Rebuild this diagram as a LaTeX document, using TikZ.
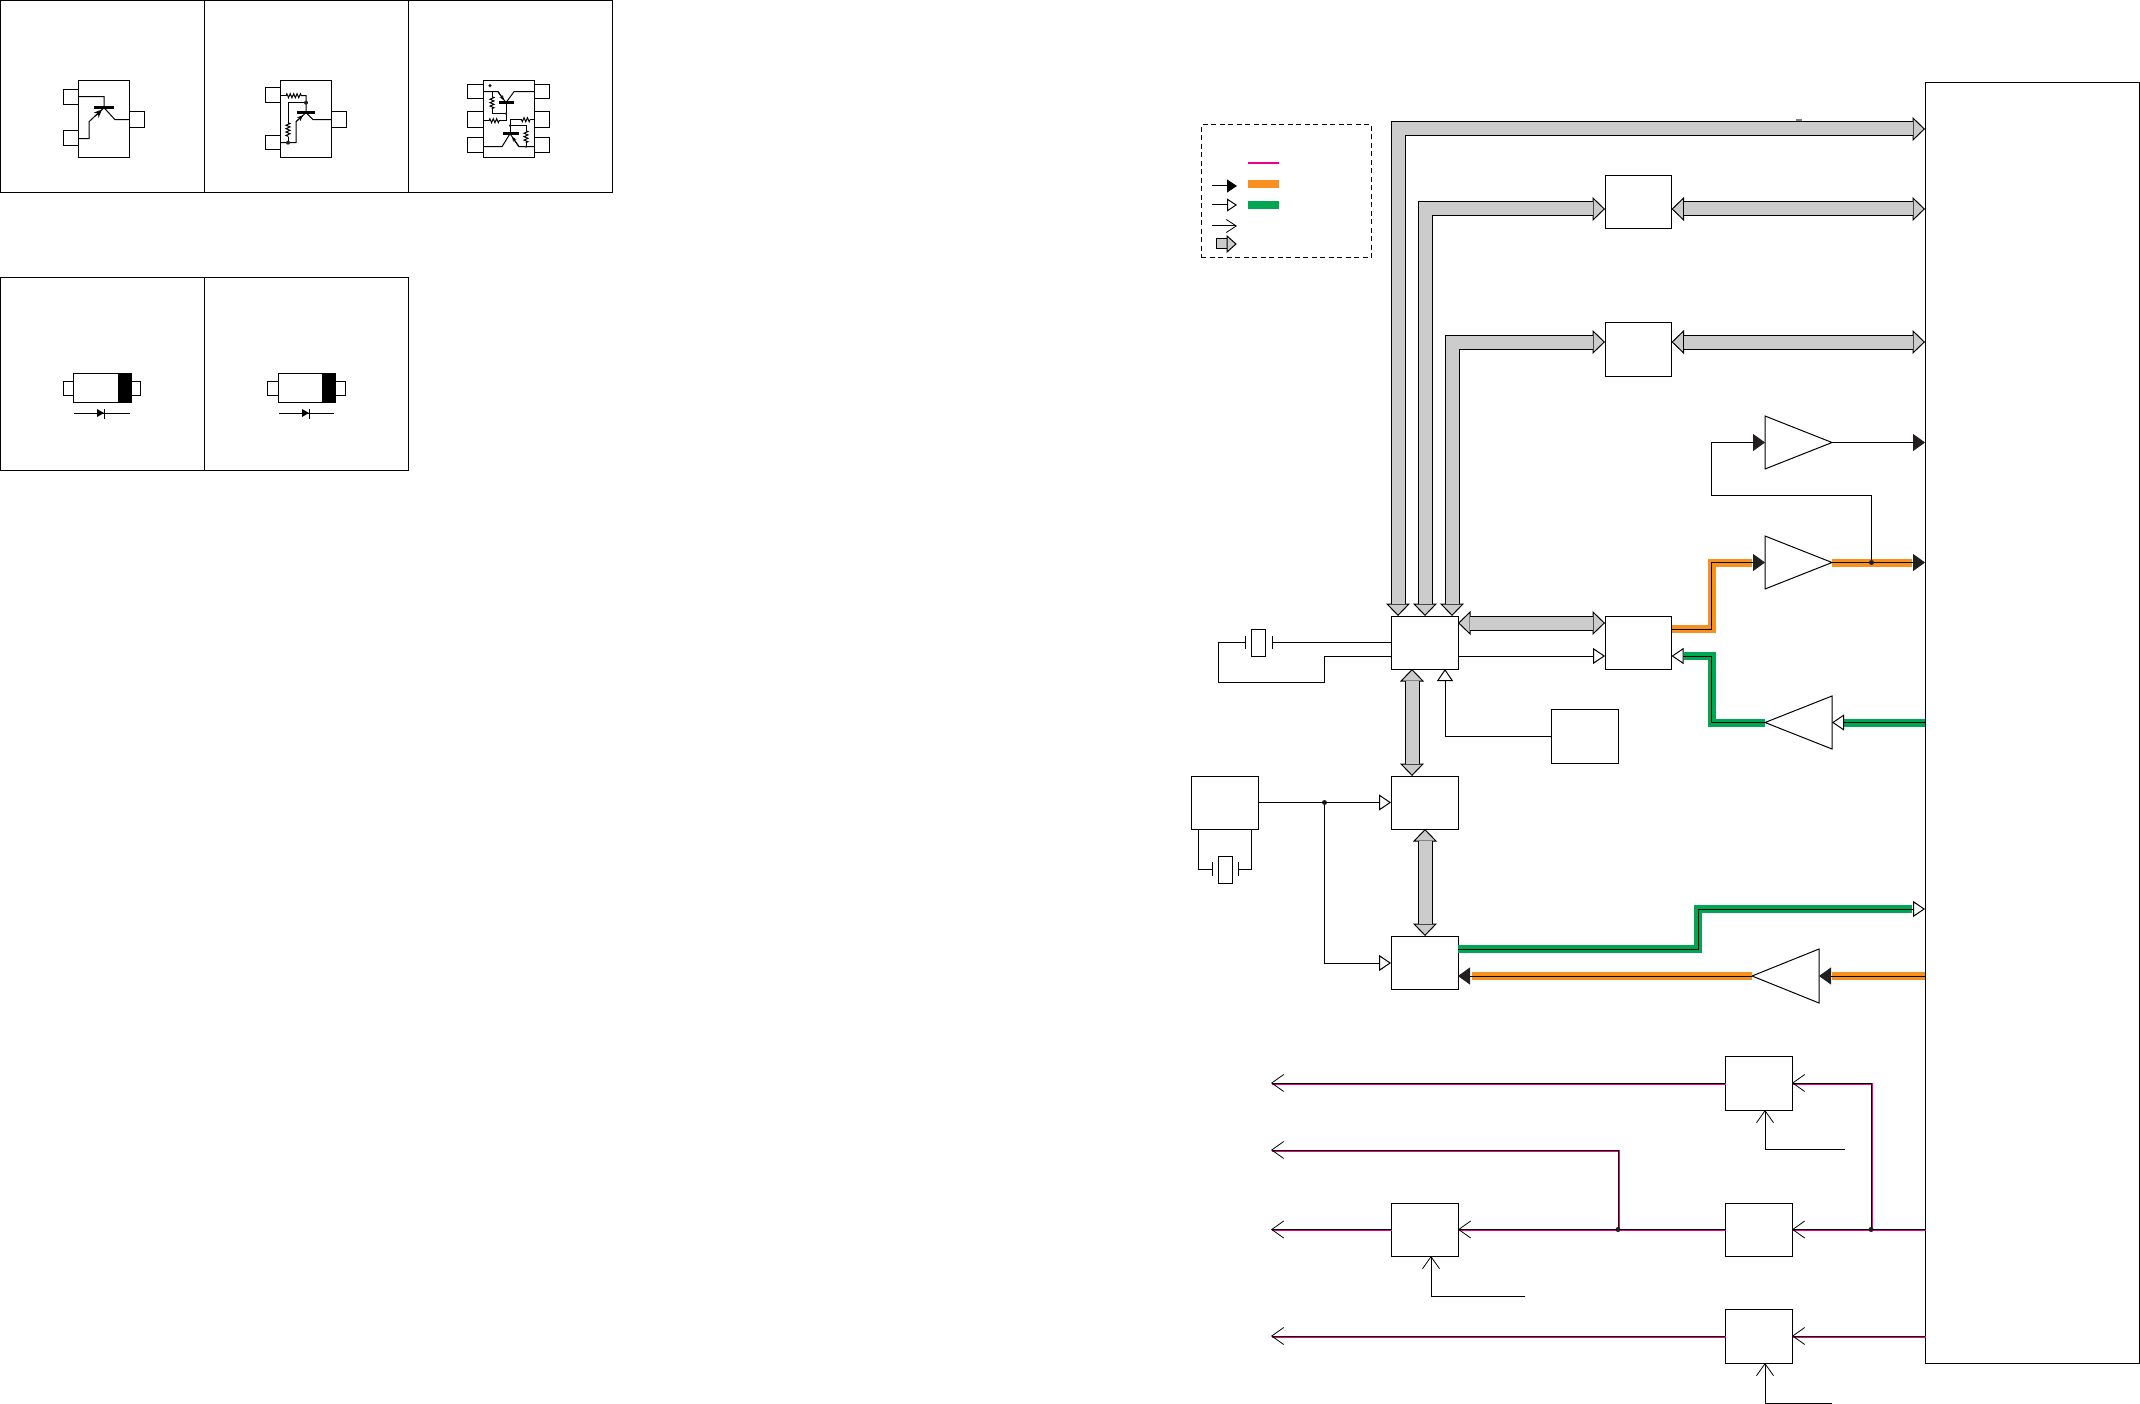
\documentclass[tikz,border=0pt]{standalone}
\usetikzlibrary{arrows.meta,decorations.pathmorphing}
\definecolor{busgrey}{HTML}{CCCCCC}
\definecolor{sigorange}{HTML}{F7901E}
\definecolor{siggreen}{HTML}{00A651}
\definecolor{sigpink}{HTML}{EC008C}
\definecolor{tipblack}{HTML}{231F20}
\tikzset{
  every path/.style={line width=1pt},
  boxn/.style={draw=black,line width=1pt,inner sep=0pt,outer sep=0pt,fill=white},
  junction/.style={circle,fill=tipblack,draw=none,minimum size=5pt,inner sep=0pt,outer sep=0pt},
  blk/.style={-{Triangle[length=12pt,width=17pt,fill=tipblack,color=tipblack]}},
  wht/.style={-{Triangle[length=12pt,width=16pt,fill=white]}},
  opn/.style={-{Straight Barb[length=12pt,width=17pt,line width=.8pt]}},
  busheadB/.style={{Triangle[length=12.5pt,width=24pt,fill=busgrey]}-{Triangle[length=12.5pt,width=24pt,fill=busgrey]}},
  busbody/.style={draw=black,line width=1pt,double=busgrey,double distance=13pt,shorten >=12pt,shorten <=12pt},
  orangeline/.style={draw=sigorange,line width=8pt},
  greenline/.style={draw=siggreen,line width=8pt},
  pinkline/.style={draw=sigpink,line width=1.5pt,transform canvas={xshift=1pt,yshift=-1pt}},
  res/.style={decorate,decoration={zigzag,amplitude=2pt,segment length=3.4pt}},
  barline/.style={line width=2.6pt},
}
\newcommand{\bx}[6][]{\node[boxn,minimum width={(#5-#3)*1pt},minimum height={(#6-#4)*1pt},#1] (#2) at ({(#3+#5)/2},{(#4+#6)/2}) {};}
\newcommand{\busconn}[1]{\draw[busheadB] #1; \draw[busbody] #1;}
\begin{document}
\begin{tikzpicture}[x=1pt,y=-1pt]
\useasboundingbox (0,0) rectangle (2140,1404);
% ---- footprint frames
\bx{fa}{0.5}{0.5}{204.5}{192.5}
\bx{fb}{204.5}{0.5}{408.5}{192.5}
\bx{fc}{408.5}{0.5}{612.5}{192.5}
\bx{fd}{0.5}{277.5}{204.5}{470.5}
\bx{fe}{204.5}{277.5}{408.5}{470.5}
\begin{scope}[yshift=-0.7pt]
% package 1
\bx{pa1}{63}{89}{78}{104}\bx{pa2}{63}{130}{78}{145}\bx{pa3}{129}{111}{144.5}{127}
\bx{pa}{78}{80}{129}{157}
\draw (pa.west |- 0,96) -- (104,96) -- (104,107) -- (115,119) -- (pa.east |- 0,119);
\draw (pa.west |- 0,138) -- (89,138) -- (89,121) -- (104,107);
\draw[-{Stealth[length=8pt,width=7pt]}] (95,115.5) -- (102,109);
\draw[barline] (94,107) -- (114,107);
% package 2
\bx{pb1}{265}{87}{280}{102}\bx{pb2}{265}{135}{280}{149}\bx{pb3}{331}{111}{346.5}{127}
\bx{pb}{280}{80}{331}{157}
\draw (pb.west |- 0,95) -- (286,95);
\draw[res] (286,95) -- (302,95);
\draw (302,95) -- (306,95) -- (306,112) -- (313,119) -- (pb.east |- 0,119);
\draw (306,102) -- (288,102) -- (288,122);
\draw[res] (288,122) -- (288,136);
\draw (288,136) -- (288,142);
\draw (pb.west |- 0,142) -- (296,142) -- (296,121) -- (306,112);
\draw[-{Stealth[length=6pt,width=5pt]}] (296,121) -- (303,114.5);
\draw[barline] (297,112) -- (315,112);
\node[junction,minimum size=4pt] (pbj1) at (306,102) {};
\node[junction,minimum size=4pt] (pbj2) at (288,142) {};
% package 3
\bx{pc1}{467}{84}{483}{98}\bx{pc2}{467}{111}{483}{127}\bx{pc3}{467}{137}{483}{152}
\bx{pc4}{534}{84}{549.5}{98}\bx{pc5}{534}{111}{549.5}{127}\bx{pc6}{534}{137}{549.5}{152}
\bx{pc}{483}{80}{534}{157}
\node[junction,minimum size=3.5pt] (pcd) at (490,85) {};
\draw (pc.west |- 0,91) -- (498,91) -- (506,102) -- (514,91) -- (pc.east |- 0,91);
\draw[-{Stealth[length=5pt,width=4pt]}] (498,91) -- (504,99.5);
\draw[barline] (499,102) -- (514,102);
\draw (506,102) -- (506,120);
\draw (492,91) -- (492,96);
\draw[res] (492,96) -- (492,108);
\draw (492,108) -- (492,113) -- (506,113);
\draw (pc.west |- 0,120) -- (489,120);
\draw[res] (489,120) -- (500,120);
\draw (500,120) -- (506,120);
\node[junction,minimum size=2.5pt] (pcj1) at (506,113) {};
\draw (pc.east |- 0,119) -- (530,119);
\draw[res] (530,119) -- (520,119);
\draw (520,119) -- (510,119) -- (510,133);
\draw (510,125) -- (526,125) -- (526,130);
\draw[res] (526,130) -- (526,142);
\draw (526,142) -- (526,146);
\draw[barline] (503,133) -- (519,133);
\draw (pc.west |- 0,146) -- (502,146) -- (510,133) -- (519,146) -- (pc.east |- 0,146);
\draw[-{Stealth[length=5pt,width=4pt]}] (519,146) -- (512,136);
\node[junction,minimum size=2.5pt] (pcj2) at (510,125) {};
\node[junction,minimum size=2.5pt] (pcj3) at (526,146) {};
\end{scope}
% diode 1
\bx{da1}{63}{381}{73}{395}\bx{da2}{131}{381}{140.5}{395}
\bx{da}{73}{373}{131}{402}
\bx[fill=black]{dab}{118}{373}{131}{402}
\draw (74,413) -- (130,413);
\fill[black] (97,409) -- (104,413) -- (97,417) -- cycle;
\draw[line width=1.6pt] (104.5,409) -- (104.5,419);
% diode 2
\bx{db1}{267}{381}{278}{395}\bx{db2}{335}{381}{345.5}{395}
\bx{db}{278}{373}{335}{402}
\bx[fill=black]{dbb}{322}{373}{335}{402}
\draw (279,413) -- (334,413);
\fill[black] (302,409) -- (309,413) -- (302,417) -- cycle;
\draw (309,409) -- (309,419);
% ---- legend
\bx[dash pattern=on 5pt off 3.5pt,fill=none]{legend}{1201}{125}{1371.5}{258}
\coordinate (lgp1) at (1248,163);\coordinate (lgp2) at (1279,163);
\draw[draw=sigpink,line width=2pt] (lgp1) -- (lgp2);
\coordinate (lgo1) at (1248,184);\coordinate (lgo2) at (1279,184);
\draw[orangeline] (lgo1) -- (lgo2);
\coordinate (lgg1) at (1248,205);\coordinate (lgg2) at (1279,205);
\draw[greenline] (lgg1) -- (lgg2);
\coordinate (lga1) at (1212,186);\coordinate (lga2) at (1237,186);
\draw[-{Triangle[length=10pt,width=13pt,fill=black]}] (lga1) -- (lga2);
\coordinate (lgb1) at (1212,205);\coordinate (lgb2) at (1237,205);
\draw[-{Triangle[length=10pt,width=13pt,fill=white]}] (lgb1) -- (lgb2);
\coordinate (lgc1) at (1212,226);\coordinate (lgc2) at (1237,226);
\draw[-{Straight Barb[length=10pt,width=13pt,line width=.8pt]}] (lgc1) -- (lgc2);
\coordinate (lgd1) at (1216,244);\coordinate (lgd2) at (1236,244);
\draw[fill=busgrey] (1216,239) rectangle (1227,249);
\draw[fill=busgrey] (1227,236) -- (1236,244) -- (1227,252) -- cycle;
% ---- main blocks
\bx{cpu}{1925}{82.5}{2139}{1363}
\bx{mbox}{1391}{616}{1458}{669}
\bx{rbox}{1605}{616}{1671.5}{669}
\bx{topa}{1605}{175.5}{1671.5}{229}
\bx{topb}{1605}{322.5}{1671.5}{376}
\bx{dbox}{1551}{709}{1618}{763}
\bx{cbox}{1391}{776}{1458}{829}
\bx{xbox}{1191}{776}{1258}{829}
\bx{ebox}{1391}{936}{1458}{989}
\bx{ba}{1725}{1056}{1792}{1110}
\bx{bb}{1725}{1203}{1792}{1256}
\bx{bc}{1391}{1203}{1458}{1256}
\bx{bd}{1725}{1309}{1792}{1363}
\fill[gray] (1796,119.5) rectangle (1802,121.5);
% ---- amplifiers
\coordinate (a1in) at (1765,442.5);\coordinate (a1out) at (1832,442.5);
\draw (1765,416) -- (a1out) -- (1765,469) -- cycle;
\coordinate (a2in) at (1765,562.5);\coordinate (a2out) at (1832,562.5);
\draw (1765,536) -- (a2out) -- (1765,589) -- cycle;
\coordinate (a3in) at (1832,722.5);\coordinate (a3out) at (1765,722.5);
\draw (1832,696) -- (a3out) -- (1832,749) -- cycle;
\coordinate (a4in) at (1819,976);\coordinate (a4out) at (1752,976);
\draw (1819,949) -- (a4out) -- (1819,1003) -- cycle;
% ---- buses
\coordinate (m1) at (1398,616);\coordinate (m2) at (1425,616);\coordinate (m3) at (1452,616);
\coordinate (c1) at (1925,129);
\busconn{(m1) -- (m1 |- c1) -- (c1)}
\coordinate (t1w) at (1605,209);\coordinate (t1e) at (1671.5,209);\coordinate (c2) at (1925,209);
\busconn{(m2) -- (m2 |- t1w) -- (t1w)}
\busconn{(t1e) -- (c2)}
\coordinate (t2w) at (1605,342);\coordinate (t2e) at (1671.5,342);\coordinate (c3) at (1925,342);
\busconn{(m3) -- (m3 |- t2w) -- (t2w)}
\busconn{(t2e) -- (c3)}
\coordinate (me) at (1458,623);\coordinate (rw) at (1605,623);
\busconn{(me) -- (rw)}
\coordinate (ms) at (1412,669);\coordinate (cn) at (1412,776);
\busconn{(ms) -- (cn)}
\coordinate (cs) at (1425,829);\coordinate (en) at (1425,936);
\busconn{(cs) -- (en)}
% ---- thin links around mbox
\coordinate (me2) at (1458,656);\coordinate (rw2) at (1605,656);
\draw[wht] (me2) -- (rw2);
\coordinate (ms2) at (1445,669);\coordinate (dw) at (1551,736);
\draw[wht] (dw) -- (ms2 |- dw) -- (ms2);
% crystal 1
\coordinate (mw1) at (1391,642.5);\coordinate (mw2) at (1391,656);
\coordinate (xa1) at (1245,642.5);\coordinate (xa2) at (1272,642.5);
\draw (mw1) -- (xa2);
\draw (mw2) -- (1324.5,656) -- (1324.5,682) -- (1218,682) -- (1218,642.5) -- (xa1);
\draw (1245,636) -- (1245,649);
\draw (1272,636) -- (1272,649);
\bx{xa}{1251}{629}{1265}{656}
% crystal 2
\coordinate (xs1) at (1198,829);\coordinate (xs2) at (1251,829);
\coordinate (xb1) at (1212,869);\coordinate (xb2) at (1238,869);
\draw (xs1) -- (xs1 |- xb1) -- (xb1);
\draw (xs2) -- (xs2 |- xb2) -- (xb2);
\draw (1212,862) -- (1212,876);
\draw (1238,862) -- (1238,876);
\bx{xb}{1218}{856}{1232}{883}
% oscillator feed
\node[junction] (j1) at (1324.5,802.5) {};
\coordinate (xe) at (1258,802.5);\coordinate (cw) at (1391,802.5);\coordinate (ew) at (1391,963);
\draw[wht] (xe) -- (cw);
\draw[wht] (j1) -- (j1 |- ew) -- (ew);
% ---- orange / green
\coordinate (re1) at (1671.5,629);\coordinate (re2) at (1671.5,656);
\draw[orangeline,shorten >=1pt] (re1) -- (1711.5,629) -- (1711.5,562.5) -- (1753,562.5);
\draw[blk] (re1) -- (1711.5,629) -- (1711.5,562.5) -- (a2in);
\coordinate (c5) at (1925,562.5);
\draw[orangeline] (a2out) -- (1912,562.5);
\draw[blk] (a2out) -- (c5);
\node[junction] (j2) at (1871.5,562.5) {};
\coordinate (c4) at (1925,442.5);
\draw[blk] (a1out) -- (c4);
\draw[blk] (j2) -- (1871.5,495) -- (1711.5,495) -- (1711.5,442.5) -- (a1in);
\coordinate (c6) at (1925,722.5);
\draw[greenline] (c6) -- (1844,722.5);
\draw[wht] (c6) -- (a3in);
\draw[greenline] (a3out) -- (1711.5,722.5) -- (1711.5,656) -- (1684,656);
\draw[wht] (a3out) -- (1711.5,722.5) -- (1711.5,656) -- (re2);
\coordinate (ee1) at (1458,949);\coordinate (c7) at (1925,909);
\draw[greenline] (ee1) -- (1698,949) -- (1698,909) -- (1912,909);
\draw[wht] (ee1) -- (1698,949) -- (1698,909) -- (c7);
\coordinate (c8) at (1925,976);\coordinate (ee2) at (1458,976);
\draw[orangeline] (c8) -- (1832,976);
\draw[blk] (c8) -- (a4in);
\draw[orangeline] (a4out) -- (1472,976);
\draw[blk] (a4out) -- (ee2);
% ---- pink lines
\coordinate (c9) at (1925,1229.5);\coordinate (c10) at (1925,1336);
\coordinate (bbe) at (1792,1229.5);\coordinate (bbw) at (1725,1229.5);
\coordinate (bce) at (1458,1229.5);\coordinate (bcw) at (1391,1229.5);
\coordinate (bae) at (1792,1083);\coordinate (baw) at (1725,1083);
\coordinate (bde) at (1792,1336);\coordinate (bdw) at (1725,1336);
\coordinate (o1) at (1271,1083);\coordinate (o2) at (1271,1150);\coordinate (o3) at (1271,1229.5);\coordinate (o4) at (1271,1336);
\coordinate (j3c) at (1871,1229.5);\coordinate (j4c) at (1618,1229.5);
\draw[pinkline] (c9) -- (bbe);
\draw[pinkline] (j3c) -- (1871,1083) -- (bae);
\draw[pinkline] (baw) -- (o1);
\draw[pinkline] (bbw) -- (bce);
\draw[pinkline] (j4c) -- (1618,1150) -- (o2);
\draw[pinkline] (bcw) -- (o3);
\draw[pinkline] (c10) -- (bde);
\draw[pinkline] (bdw) -- (o4);
\draw[opn] (c9) -- (bbe);
\draw[opn] (j3c) -- (1871,1083) -- (bae);
\draw[opn] (baw) -- (o1);
\draw[opn] (bbw) -- (bce);
\draw[opn] (j4c) -- (1618,1150) -- (o2);
\draw[opn] (bcw) -- (o3);
\draw[opn] (c10) -- (bde);
\draw[opn] (bdw) -- (o4);
\node[junction] (j3) at (j3c) {};
\node[junction] (j4) at (j4c) {};
% ---- control arrows
\coordinate (bas) at (1765,1110);\coordinate (bae2) at (1845,1149);
\draw[opn] (bae2) -- (bas |- bae2) -- (bas);
\coordinate (bcs) at (1431,1256);\coordinate (bce2) at (1525,1296);
\draw[opn] (bce2) -- (bcs |- bce2) -- (bcs);
\coordinate (bds) at (1765,1363);\coordinate (bde2) at (1832,1403);
\draw[opn] (bde2) -- (bds |- bde2) -- (bds);
\end{tikzpicture}
\end{document}
